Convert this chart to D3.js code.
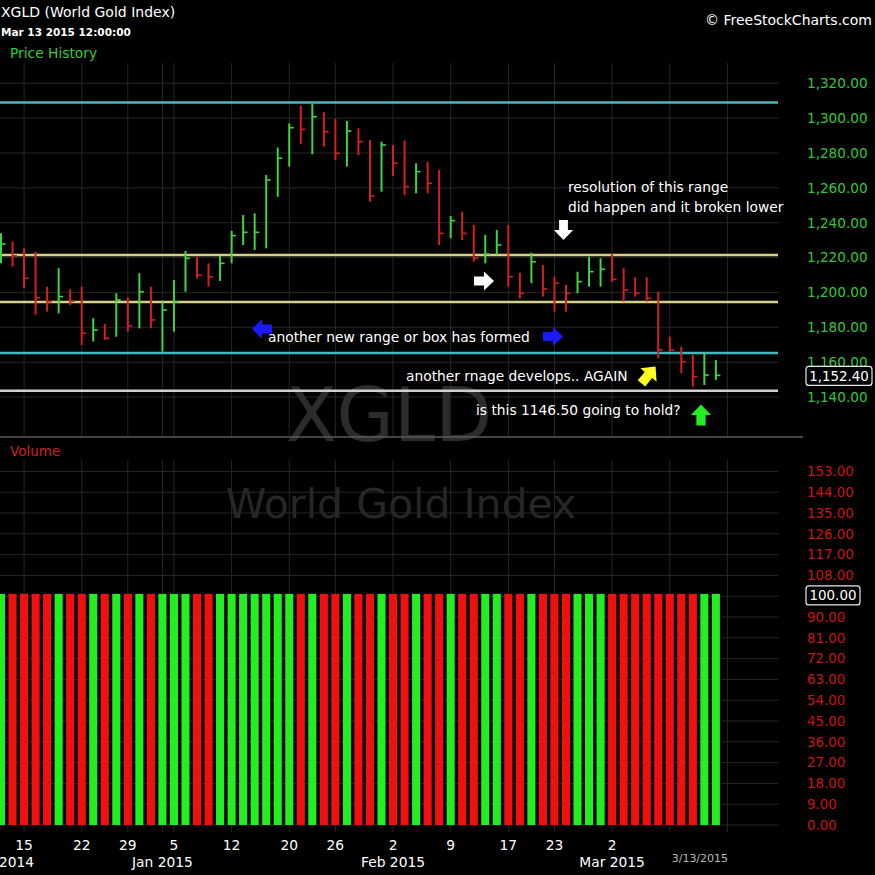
<!DOCTYPE html>
<html><head><meta charset="utf-8">
<script src="https://cdn.jsdelivr.net/npm/d3@7"></script>
<style>
html,body{margin:0;padding:0;background:#000;}
svg{display:block;}
text{font-family:"DejaVu Sans",Verdana,sans-serif;}
</style>
</head><body>
<svg id="c" width="875" height="875"></svg>
<script>
// ---------------- DATA ----------------
const dates = [
 "2014-12-11","2014-12-12","2014-12-15","2014-12-16","2014-12-17","2014-12-18","2014-12-19",
 "2014-12-22","2014-12-23","2014-12-24","2014-12-26","2014-12-29","2014-12-30","2014-12-31",
 "2015-01-02","2015-01-05","2015-01-06","2015-01-07","2015-01-08","2015-01-09",
 "2015-01-12","2015-01-13","2015-01-14","2015-01-15","2015-01-16",
 "2015-01-20","2015-01-21","2015-01-22","2015-01-23",
 "2015-01-26","2015-01-27","2015-01-28","2015-01-29","2015-01-30",
 "2015-02-02","2015-02-03","2015-02-04","2015-02-05","2015-02-06",
 "2015-02-09","2015-02-10","2015-02-11","2015-02-12","2015-02-13",
 "2015-02-17","2015-02-18","2015-02-19","2015-02-20",
 "2015-02-23","2015-02-24","2015-02-25","2015-02-26","2015-02-27",
 "2015-03-02","2015-03-03","2015-03-04","2015-03-05","2015-03-06",
 "2015-03-09","2015-03-10","2015-03-11","2015-03-12","2015-03-13"
];
const futureDates = ["2015-03-16","2015-03-17","2015-03-18","2015-03-19","2015-03-20"];

const highs = [1233.9,1229.1,1225.3,1223.4,1203.3,1213.9,1201.8,1203.3,1185.2,1181.9,
 1199.5,1197.2,1211.0,1203.3,1194.7,1207.1,1223.8,1220.5,1216.7,1221.1,
 1235.3,1244.4,1245.4,1267.4,1283.1,1297.0,1307.2,1308.5,1303.4,1299.5,
 1298.4,1294.2,1287.5,1286.5,1284.6,1287.1,1274.1,1275.0,1270.3,1243.9,
 1246.3,1238.7,1233.0,1235.8,1238.7,1211.3,1222.8,1215.8,1209.0,1204.3,
 1211.9,1220.5,1219.6,1222.0,1213.9,1208.7,1208.7,1200.4,1174.6,1168.9,
 1164.1,1165.1,1161.3];
const lows = [1216.7,1214.8,1202.4,1187.1,1189.0,1188.0,1192.8,1169.9,1171.8,1172.7,
 1174.6,1177.5,1179.4,1179.4,1166.0,1177.5,1200.4,1208.1,1203.3,1206.6,
 1216.7,1227.2,1224.4,1225.3,1254.9,1272.2,1285.0,1279.3,1283.6,1276.0,
 1272.2,1278.9,1252.1,1257.8,1266.8,1255.9,1256.9,1256.9,1227.2,1231.1,
 1230.1,1217.6,1216.7,1221.5,1203.3,1196.6,1205.3,1197.6,1189.0,1189.0,
 1199.5,1203.3,1203.3,1206.2,1194.7,1197.6,1194.7,1162.2,1166.0,1153.6,
 1145.9,1146.9,1149.8];
const closes = [1227.8,1221.0,1208.1,1197.0,1194.7,1197.6,1195.0,1176.6,1178.5,1173.7,
 1195.7,1180.8,1200.4,1184.2,1189.9,1194.7,1219.6,1210.0,1209.0,1216.7,
 1232.6,1234.5,1234.5,1264.5,1277.0,1294.5,1293.6,1300.8,1292.2,1279.8,
 1292.6,1286.5,1255.3,1284.6,1274.1,1260.7,1269.3,1262.6,1233.9,1241.2,
 1233.9,1219.6,1222.0,1227.2,1209.0,1199.5,1217.6,1202.0,1205.3,1199.5,
 1206.2,1211.9,1213.3,1207.5,1201.4,1199.5,1196.6,1167.0,1167.0,1160.3,
 1151.7,1152.6,1152.4];
// 1 = up (green), 0 = down (red)
const upDown = [1,0,0,0,0,1,0,0,1,0, 1,0,1,0,1,1,1,0,0,1, 1,1,1,1,1,1,0,1,0,0,
 1,0,0,1,0,0,1,0,0,1, 0,0,1,1,0,0,1,0,0,0, 1,1,1,0,0,0,0,0,0,0, 0,1,1];
const volumes = [100,100,100,100,100,100,100,100,100,100, 100,100,100,100,100,100,100,100,100,100,
 100,100,100,100,100,100,100,100,100,100, 100,100,100,100,100,100,100,100,100,100,
 100,100,100,100,100,100,100,100,100,100, 100,100,100,100,100,100,100,100,100,100,
 100,100,100];

const priceTicks = [1140,1160,1180,1200,1220,1240,1260,1280,1300,1320];
const volumeGridTicks = [0,9,18,27,36,45,54,63,72,81,90,99,108,117,126,135,144,153];
const volumeLabelTicks = [0,9,18,27,36,45,54,63,72,81,90,108,117,126,135,144,153];
const lastPrice = 1152.40;
const lastVolume = 100;

const weekGridDates = ["2014-12-15","2014-12-22","2014-12-29","2015-01-02","2015-01-05","2015-01-12",
 "2015-01-20","2015-01-26","2015-02-02","2015-02-09","2015-02-17","2015-02-23","2015-03-02","2015-03-09","2015-03-16"];
const dayTickDates = ["2014-12-15","2014-12-22","2014-12-29","2015-01-05","2015-01-12","2015-01-20",
 "2015-01-26","2015-02-02","2015-02-09","2015-02-17","2015-02-23","2015-03-02"];
const dayTickLabels = ["15","22","29","5","12","20","26","2","9","17","23","2"];
const monthTickDates = ["2014-12-11","2015-01-02","2015-02-02","2015-03-02"];
const monthTickLabels = ["Dec 2014","Jan 2015","Feb 2015","Mar 2015"];
const lastDateLabel = "3/13/2015";

const levelValues = [1309.0, 1221.5, 1194.5, 1165.2, 1143.6];
const levelKinds = ["cyan","yellow","yellow","cyan","white"];

// ---------------- DRAW ----------------
const svg = d3.select("#c");
svg.append("rect").attr("width",875).attr("height",875).attr("fill","#000");

const plotRight = 779;
const x = d3.scaleBand().domain(dates.concat(futureDates)).range([-4.77, 779.3]).padding(0);
const cx = d => x(d) + x.bandwidth()/2;
const yP = d3.scaleLinear().domain([1140,1320]).range([397,83.3]);
const yV = d3.scaleLinear().domain([0,153]).range([825,471.4]);

const gridColor = "#262626";
svg.append("g").selectAll("line").data(priceTicks).join("line")
  .attr("x1",0).attr("x2",plotRight).attr("y1",d=>yP(d)).attr("y2",d=>yP(d))
  .attr("stroke",gridColor).attr("stroke-width",1);
svg.append("g").selectAll("line").data(volumeGridTicks).join("line")
  .attr("x1",0).attr("x2",plotRight).attr("y1",d=>yV(d)).attr("y2",d=>yV(d))
  .attr("stroke",gridColor).attr("stroke-width",1);
svg.append("g").selectAll("line").data(weekGridDates).join("line")
  .attr("x1",d=>cx(d)).attr("x2",d=>cx(d)).attr("y1",63).attr("y2",436)
  .attr("stroke",gridColor).attr("stroke-width",1);
svg.append("g").selectAll("line").data(weekGridDates).join("line")
  .attr("x1",d=>cx(d)).attr("x2",d=>cx(d)).attr("y1",460).attr("y2",832)
  .attr("stroke",gridColor).attr("stroke-width",1);

// watermark
svg.append("text").attr("x",389).attr("y",441).attr("text-anchor","middle")
  .attr("font-size",74).attr("fill","#2c2c2c").text("XGLD");
svg.append("text").attr("x",401).attr("y",518).attr("text-anchor","middle")
  .attr("font-size",41).attr("fill","#262626").text("World Gold Index");

// level lines
const levelColor = {cyan:"#46b8c2", yellow:"#d8cf86", white:"#d0d0d0"};
svg.append("g").selectAll("line").data(levelValues).join("line")
  .attr("x1",0).attr("x2",778).attr("y1",d=>yP(d)).attr("y2",d=>yP(d))
  .attr("stroke",(d,i)=>levelColor[levelKinds[i]]).attr("stroke-width",2.5);

// price HLC bars
const upP = "#3fd43f", dnP = "#d42020";
const gBars = svg.append("g");
dates.forEach((d,i)=>{
  const c = upDown[i] ? upP : dnP;
  const xc = cx(d);
  gBars.append("line").attr("x1",xc).attr("x2",xc).attr("y1",yP(highs[i])).attr("y2",yP(lows[i]))
    .attr("stroke",c).attr("stroke-width",2);
  gBars.append("line").attr("x1",xc).attr("x2",xc+4.5).attr("y1",yP(closes[i])).attr("y2",yP(closes[i]))
    .attr("stroke",c).attr("stroke-width",1.6);
});

// volume bars
const upV = "#22ee22", dnV = "#f01010";
const bw = x.bandwidth()*0.7;
svg.append("g").selectAll("rect").data(dates).join("rect")
  .attr("x",d=>cx(d)-bw/2).attr("width",bw)
  .attr("y",(d,i)=>yV(volumes[i])).attr("height",(d,i)=>yV(0)-yV(volumes[i]))
  .attr("fill",(d,i)=>upDown[i]?upV:dnV);

// separator
svg.append("line").attr("x1",0).attr("x2",803).attr("y1",437).attr("y2",437)
  .attr("stroke","#5a5a5a").attr("stroke-width",1.5);

// y axes
const axP = svg.append("g").attr("transform","translate(805,0)")
  .call(d3.axisRight(yP).tickValues(priceTicks).tickFormat(d3.format(",.2f")).tickSize(0).tickPadding(2));
axP.select(".domain").remove();
axP.selectAll("text").attr("fill","#33c533").attr("font-size",13.6).attr("font-family","DejaVu Sans, sans-serif");

const axV = svg.append("g").attr("transform","translate(805,0)")
  .call(d3.axisRight(yV).tickValues(volumeLabelTicks).tickFormat(d3.format(".2f")).tickSize(0).tickPadding(2));
axV.select(".domain").remove();
axV.selectAll("text").attr("fill","#c81414").attr("font-size",13.4).attr("font-family","DejaVu Sans, sans-serif");

// last value boxes
function valueBox(xl, yc, w, txt){
  svg.append("rect").attr("x",xl).attr("y",yc-9.5).attr("width",w).attr("height",19).attr("rx",3)
    .attr("fill","#000").attr("stroke","#e8e8e8").attr("stroke-width",1.2);
  svg.append("text").attr("x",xl+w/2).attr("y",yc+4.8).attr("text-anchor","middle")
    .attr("fill","#fff").attr("font-size",13.4).text(txt);
}
valueBox(806, yP(lastPrice)+0.5, 66, d3.format(",.2f")(lastPrice));
valueBox(806, yV(lastVolume)+1.5, 54, d3.format(".2f")(lastVolume));

// x axes
const axD = svg.append("g").attr("transform","translate(0,838)")
  .call(d3.axisBottom(x).tickValues(dayTickDates).tickFormat((d,i)=>dayTickLabels[i]).tickSize(0).tickPadding(2));
axD.select(".domain").remove();
axD.selectAll("text").attr("fill","#fff").attr("font-size",13.8).attr("font-family","DejaVu Sans, sans-serif");
const axM = svg.append("g").attr("transform","translate(0,855)")
  .call(d3.axisBottom(x).tickValues(monthTickDates).tickFormat((d,i)=>monthTickLabels[i]).tickSize(0).tickPadding(2));
axM.select(".domain").remove();
axM.selectAll("text").attr("fill","#fff").attr("font-size",13.8).attr("font-family","DejaVu Sans, sans-serif");
svg.append("text").attr("x",cx(dates[dates.length-1])-16).attr("y",862).attr("text-anchor","middle")
  .attr("fill","#b8b8b8").attr("font-size",11).text(lastDateLabel);

// header
svg.append("text").attr("x",1).attr("y",17).attr("fill","#fff").attr("font-size",14).text("XGLD (World Gold Index)");
svg.append("text").attr("x",1).attr("y",36).attr("fill","#fff").attr("font-size",10.5).attr("font-weight","bold").text("Mar 13 2015 12:00:00");
svg.append("text").attr("x",10).attr("y",58).attr("fill","#33cc33").attr("font-size",13.8).text("Price History");
svg.append("text").attr("x",872).attr("y",25).attr("text-anchor","end").attr("fill","#fff").attr("font-size",14).text("© FreeStockCharts.com");
svg.append("text").attr("x",10).attr("y",456).attr("fill","#cc2020").attr("font-size",13.5).text("Volume");

// annotations
const ann = [
  ["resolution of this range",568,192],
  ["did happen and it broken lower",568,212],
  ["another new range or box has formed",268,342],
  ["another rnage develops.. AGAIN",406,381],
  ["is this 1146.50 going to hold?",476,415]
];
svg.append("g").selectAll("text").data(ann).join("text")
  .attr("x",d=>d[1]).attr("y",d=>d[2]).attr("fill","#fff").attr("font-size",13.8).text(d=>d[0]);

// arrows (block arrows)
function arrow(cxp, cyp, len, angleDeg, color){
  const h = len/2, sw = len*0.22, hw = len*0.48, hl = len*0.5;
  const pts = [[-h,-sw],[h-hl,-sw],[h-hl,-hw],[h,0],[h-hl,hw],[h-hl,sw],[-h,sw]];
  svg.append("path").attr("d","M"+pts.map(p=>p.join(",")).join("L")+"Z")
    .attr("transform",`translate(${cxp},${cyp}) rotate(${angleDeg})`)
    .attr("fill",color);
}
arrow(563.5, 230, 20, 90, "#ffffff");
arrow(484, 281, 20, 0, "#ffffff");
arrow(262, 329, 20, 180, "#1a1aff");
arrow(553, 336.5, 20, 0, "#1a1aff");
arrow(648.5, 375, 22, -50, "#ffff22");
arrow(701, 415, 21, -90, "#22ee22");
</script>
</body></html>
